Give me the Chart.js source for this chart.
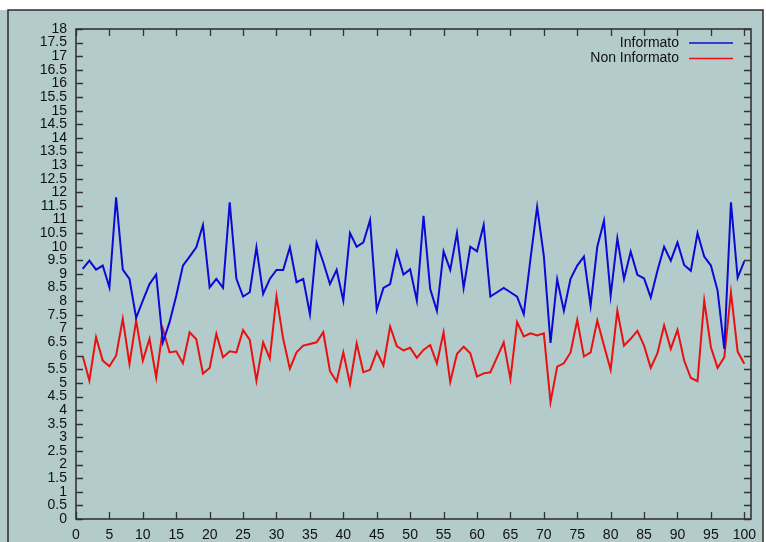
<!DOCTYPE html>
<html>
<head>
<meta charset="utf-8">
<script src="https://cdn.jsdelivr.net/npm/chart.js@4.4.1/dist/chart.umd.min.js"></script>
<style>
  body { margin: 0; background: #fff; }
  canvas { display: block; }
</style>
</head>
<body>
<canvas id="chart" width="766" height="542"></canvas>
<script>
// values, x = 1..100
const informato = [
    9.19, 9.49, 9.16, 9.31, 8.51, 11.82, 9.16, 8.82, 7.39, 8.02,
    8.63, 8.98, 6.49, 7.23, 8.2, 9.31, 9.64, 9.98, 10.8, 8.51,
    8.82, 8.49, 11.63, 8.82, 8.17, 8.33, 9.98, 8.27, 8.82, 9.15,
    9.15, 9.98, 8.7, 8.82, 7.53, 10.14, 9.43, 8.63, 9.15, 8.02,
    10.5, 10.0, 10.16, 10.98, 7.68, 8.49, 8.63, 9.82, 8.98, 9.17,
    8.02, 11.14, 8.45, 7.65, 9.83, 9.15, 10.5, 8.49, 10.0, 9.83,
    10.8, 8.17, 8.33, 8.49, 8.33, 8.17, 7.53, 9.55, 11.47, 9.67,
    6.47, 8.8, 7.65, 8.82, 9.31, 9.64, 7.84, 10.0, 10.96, 8.2,
    10.31, 8.82, 9.82, 8.97, 8.84, 8.14, 9.12, 10.0, 9.49, 10.16,
    9.33, 9.12, 10.5, 9.64, 9.31, 8.39, 6.25, 11.63, 8.86, 9.47
];
const nonInformato = [
    6.0, 5.08, 6.68, 5.82, 5.61, 6.0, 7.35, 5.7, 7.29, 5.82,
    6.62, 5.2, 6.98, 6.12, 6.16, 5.72, 6.86, 6.6, 5.34, 5.55,
    6.8, 5.94, 6.16, 6.12, 6.94, 6.58, 5.08, 6.49, 5.9, 8.18,
    6.62, 5.52, 6.12, 6.37, 6.43, 6.49, 6.86, 5.43, 5.05, 6.12,
    4.96, 6.45, 5.39, 5.48, 6.15, 5.64, 7.07, 6.35, 6.19, 6.29,
    5.92, 6.21, 6.39, 5.72, 6.86, 5.03, 6.06, 6.33, 6.09, 5.23,
    5.35, 5.39, 5.94, 6.49, 5.14, 7.23, 6.71, 6.82, 6.74, 6.82,
    4.29, 5.6, 5.72, 6.12, 7.31, 5.97, 6.12, 7.29, 6.37, 5.48,
    7.65, 6.37, 6.62, 6.91, 6.37, 5.55, 6.09, 7.11, 6.25, 6.95,
    5.82, 5.18, 5.06, 8.02, 6.31, 5.55, 5.94, 8.33, 6.15, 5.7
];
const days = informato.map((_, i) => i + 1);

const xTicks = [0, 5, 10, 15, 20, 25, 30, 35, 40, 45, 50, 55, 60, 65, 70, 75, 80, 85, 90, 95, 100];
const yTicks = [0, 0.5, 1, 1.5, 2, 2.5, 3, 3.5, 4, 4.5, 5, 5.5, 6, 6.5, 7, 7.5, 8, 8.5, 9,
    9.5, 10, 10.5, 11, 11.5, 12, 12.5, 13, 13.5, 14, 14.5, 15, 15.5, 16, 16.5, 17, 17.5, 18];

const BG = '#b4cbcb';
const FONT = '14px "Liberation Sans", Arial, sans-serif';

// gnuplot style frame, inward ticks and the legend
const gnuFrame = {
    id: 'gnuFrame',
    beforeDraw(chart) {
        const ctx = chart.ctx;
        ctx.save();
        ctx.fillStyle = '#fff';
        ctx.fillRect(0, 0, chart.width, chart.height);
        ctx.fillStyle = BG;
        ctx.fillRect(0, 10, 763, chart.height - 10);
        ctx.strokeStyle = '#2a2a2a';
        ctx.lineWidth = 1.5;
        ctx.beginPath();
        ctx.moveTo(8, chart.height);
        ctx.lineTo(8, 10);
        ctx.lineTo(763, 10);
        ctx.lineTo(763, chart.height);
        ctx.stroke();
        ctx.restore();
    },
    afterDraw(chart) {
        const ctx = chart.ctx;
        const a = chart.chartArea;
        const xs = chart.scales.x, ys = chart.scales.y;
        ctx.save();
        ctx.strokeStyle = '#333';
        ctx.lineWidth = 1.3;
        ctx.beginPath();
        yTicks.forEach(v => {
            const py = Math.round(ys.getPixelForValue(v)) + 0.5;
            ctx.moveTo(a.left, py); ctx.lineTo(a.left + 7, py);
            ctx.moveTo(a.right, py); ctx.lineTo(a.right - 7, py);
        });
        xTicks.forEach(v => {
            const px = Math.round(xs.getPixelForValue(v)) + 0.5;
            ctx.moveTo(px, a.bottom); ctx.lineTo(px, a.bottom - 7);
            ctx.moveTo(px, a.top); ctx.lineTo(px, a.top + 7);
        });
        ctx.stroke();
        ctx.lineWidth = 1.6;
        ctx.strokeRect(a.left, a.top, a.right - a.left, a.bottom - a.top);

        // legend
        ctx.font = FONT;
        ctx.textAlign = 'right';
        ctx.textBaseline = 'middle';
        chart.data.datasets.forEach((ds, i) => {
            const y = 43 + i * 15.6;
            ctx.fillStyle = '#111';
            ctx.fillText(ds.label, 679, y);
            ctx.strokeStyle = ds.borderColor;
            ctx.lineWidth = 1.5;
            ctx.beginPath();
            ctx.moveTo(689, y); ctx.lineTo(733, y);
            ctx.stroke();
        });
        ctx.restore();
    }
};

new Chart(document.getElementById('chart'), {
    type: 'line',
    data: {
        datasets: [
            {
                label: 'Informato',
                data: days.map((d, i) => ({ x: d, y: informato[i] })),
                borderColor: '#0a0ad6',
                borderWidth: 2,
                pointRadius: 0,
                tension: 0
            },
            {
                label: 'Non Informato',
                data: days.map((d, i) => ({ x: d, y: nonInformato[i] })),
                borderColor: '#e81010',
                borderWidth: 2,
                pointRadius: 0,
                tension: 0
            }
        ]
    },
    options: {
        responsive: false,
        devicePixelRatio: 1,
        animation: false,
        layout: { padding: { left: 0, top: 29, right: 15, bottom: 0 } },
        plugins: {
            legend: { display: false },
            tooltip: { enabled: false }
        },
        scales: {
            x: {
                type: 'linear',
                min: 0,
                max: 101,
                afterBuildTicks: s => { s.ticks = xTicks.map(v => ({ value: v })); },
                afterFit: s => { s.height = 23; },
                grid: { display: false, drawTicks: false },
                border: { display: false },
                ticks: {
                    autoSkip: false,
                    maxRotation: 0,
                    padding: 8,
                    color: '#111',
                    font: { family: '"Liberation Sans", Arial, sans-serif', size: 14 },
                    callback: v => String(v)
                }
            },
            y: {
                min: 0,
                max: 18,
                afterBuildTicks: s => { s.ticks = yTicks.map(v => ({ value: v })); },
                afterFit: s => { s.width = 76; },
                grid: { display: false, drawTicks: false },
                border: { display: false },
                ticks: {
                    autoSkip: false,
                    padding: 9,
                    color: '#111',
                    font: { family: '"Liberation Sans", Arial, sans-serif', size: 14 },
                    callback: v => String(v)
                }
            }
        }
    },
    plugins: [gnuFrame]
});
</script>
</body>
</html>
